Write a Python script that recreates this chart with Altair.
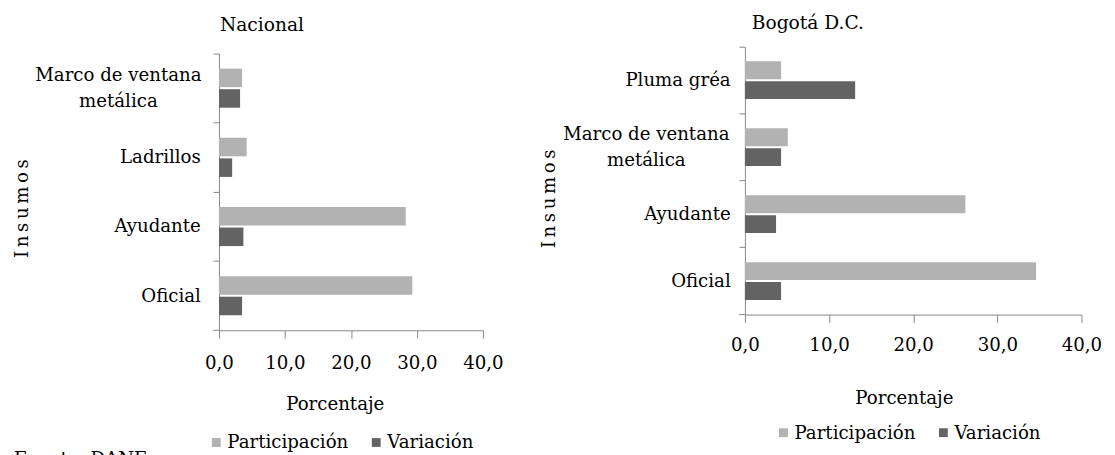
import altair as alt
import pandas as pd

FONT = "DejaVu Serif"
FS = 18.5
AXC = "#868686"
TXT = "#000000"
HS = "\u200a\u200a"

series = ["Participación", "Variación"]
colors = ["#b2b2b2", "#636363"]

nac_cats = ["Marco de ventana metálica", "Ladrillos", "Ayudante", "Oficial"]
nac_part = [3.5, 4.2, 28.3, 29.3]
nac_var = [3.2, 2.0, 3.7, 3.5]

bog_cats = ["Pluma gréa", "Marco de ventana metálica", "Ayudante", "Oficial"]
bog_part = [4.3, 5.1, 26.2, 34.6]
bog_var = [13.1, 4.3, 3.7, 4.3]

x_ticks = [0, 10, 20, 30, 40]
MULTI = "Marco de ventana metálica"


def make_df(cats, part, var):
    rows = []
    for c, p, v in zip(cats, part, var):
        rows.append({"Insumo": c, "Serie": series[0], "Valor": p})
        rows.append({"Insumo": c, "Serie": series[1], "Valor": v})
    return pd.DataFrame(rows)


def text_layer(txt, x, y, **kw):
    return alt.Chart(pd.DataFrame({"t": [txt]})).mark_text(
        font=FONT, color=TXT, **kw).encode(x=alt.value(x), y=alt.value(y), text="t:N")


def panel(df, cats, title, w, h, y_top, tx, ty, label_pad, multi_pad,
          ytx, yty, xtx, xty, xlab_pad, lx, ly, fuente=False, pin=False):
    test = f"datum.value == '{MULTI}'"
    bars = alt.Chart(df).mark_bar().encode(
        x=alt.X("Valor:Q", scale=alt.Scale(domain=[0, 40], nice=False),
                axis=alt.Axis(values=x_ticks, tickSize=8, labelPadding=xlab_pad,
                              labelFlush=False,
                              labelExpr="replace(format(datum.value, '.1f'), '.', ',')",
                              title="Porcentaje", titleX=xtx, titleY=xty,
                              titleBaseline="alphabetic", titleAlign="center")),
        y=alt.Y("Insumo:N", sort=cats,
                scale=alt.Scale(paddingInner=0, paddingOuter=0, range=[y_top, h]),
                axis=alt.Axis(title=None, bandPosition=0, tickSize=6,
                              labelPadding={"condition": {"test": test, "value": multi_pad}, "value": label_pad},
                              labelAlign={"condition": {"test": test, "value": "center"}, "value": "right"},
                              labelOffset={"condition": {"test": test, "value": -13}, "value": 0},
                              labelExpr=f"{test} ? ['Marco de ventana', 'metálica'] : datum.label",
                              labelLineHeight=26)),
        yOffset=alt.YOffset("Serie:N", sort=series,
                            scale=alt.Scale(paddingInner=0.1, paddingOuter=0.73)),
        color=alt.Color("Serie:N", scale=alt.Scale(domain=series, range=colors),
                        legend=alt.Legend(title=None, orient="none", legendX=lx, legendY=ly,
                                          direction="horizontal", symbolType="square",
                                          symbolSize=81, symbolStrokeWidth=0,
                                          labelFont=FONT, labelFontSize=FS, labelColor=TXT,
                                          columnPadding=19, labelOffset=2)),
    )
    tick = alt.Chart(pd.DataFrame({"a": [0]})).mark_rule(color=AXC).encode(
        x=alt.value(-6), x2=alt.value(0), y=alt.value(h))
    layers = [
        bars,
        tick,
        text_layer(HS.join("Insumos"), ytx, yty, angle=270, fontSize=FS),
        text_layer(title, tx, ty, fontSize=19, align="left", baseline="alphabetic"),
    ]
    if pin:
        # invisible anchor that fixes the top of the drawing 43px above the plot rows
        layers.append(alt.Chart(pd.DataFrame({"a": [0]})).mark_rule(opacity=0).encode(
            x=alt.value(0), x2=alt.value(1), y=alt.value(-43)))
    if fuente:
        layers.append(text_layer("Fuente: DANE", -209, 411, fontSize=FS,
                                 align="left", baseline="top"))
    return alt.layer(*layers).properties(width=w, height=h)


left = panel(make_df(nac_cats, nac_part, nac_var), nac_cats, "Nacional", 269, 289, 7,
             1, -16.3, 13, 97, -201, 165, 118, 81, 16, -12, 394, fuente=True)
right = panel(make_df(bog_cats, bog_part, bog_var), bog_cats, "Bogotá D.C.", 343, 273, 0,
              7, -17.8, 9, 95, -200, 155, 162, 91, 14, 30, 384, pin=True)

chart = alt.hconcat(left, right, spacing=37).resolve_scale(
    color="independent", y="independent", x="independent", yOffset="independent"
).resolve_legend(color="independent").properties(
    padding={"left": 5, "top": -8, "right": 5, "bottom": 0}
).configure_view(stroke=None).configure_axis(
    domainColor=AXC, tickColor=AXC, labelFont=FONT, labelFontSize=FS, labelColor=TXT,
    titleFont=FONT, titleFontSize=FS, titleColor=TXT, titleFontWeight="normal",
    grid=False, labelLimit=400
)

chart.save("out.html", embed_options={"renderer": "svg", "actions": False})
